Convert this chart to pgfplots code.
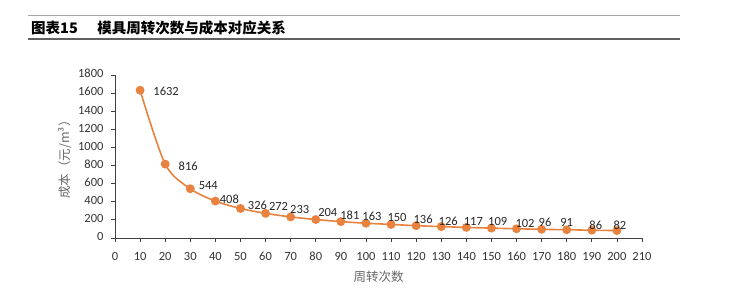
\documentclass[border=0pt]{standalone}
\usepackage{pgfplots}
\pgfplotsset{compat=1.18}
\usepackage{pgfplotstable}
\usepackage{fontspec}
\setmainfont{Carlito}
\newfontfamily\cjk{Noto Sans CJK SC}
\definecolor{org}{HTML}{E8823E}
\definecolor{axgray}{HTML}{404040}
\pgfplotstableread{
x y dx dy
10 1632 26 -1
20 816 23 -2
30 544 18 3
40 408 14 2
50 326 17 3.5
60 272 13 7
70 233 9 7
80 204 12 7.5
90 181 9 6
100 163 6 7
110 150 6 6.5
120 136 7 6.4
130 126 7 5.6
140 117 7 6.4
150 109 6.3 6.4
160 102 8.5 5.5
170 96 3.4 6.6
180 91 0 7
190 86 4 5
200 82 3 5.6
}\datatable
\begin{document}
\begin{tikzpicture}[x=1pt,y=1pt]
\path[use as bounding box] (0,0) rectangle (732,298);
\draw[gray!70, line width=1pt] (28,282) -- (680,282);
\draw[gray!75!black, line width=1.6pt] (28,259) -- (680,259);
\node[anchor=west, font=\cjk\bfseries\fontsize{14.5}{16}\selectfont, inner sep=0] at (31,270.5) {图表15\hspace{1.35em}模具周转次数与成本对应关系};
\begin{axis}[
  scale only axis, width=527pt, height=163pt,
  at={(115pt,60pt)}, anchor=south west,
  xmin=0, xmax=210, ymin=0, ymax=1800,
  xtick distance=10, ytick distance=200,
  axis x line=bottom, axis y line=left,
  axis line style={axgray, line width=0.8pt, -},
  tick style={axgray, line width=0.8pt},
  tick align=outside, major tick length=4pt,
  tick label style={font=\fontsize{12.5}{14}\selectfont, text=black!80},
  /pgf/number format/assume math mode=true,
  /pgf/number format/set thousands separator={},
  typeset ticklabels with strut,
  xticklabel style={yshift=-5pt},
  yticklabel style={xshift=-4pt},
  xlabel={\cjk 周转次数},
  ylabel={\cjk 成本（元/m³）},
  label style={font=\fontsize{12.5}{14}\selectfont, text=black!60},
  xlabel style={at={(axis description cs:0.5,0)}, anchor=center, yshift=-38.5pt},
  ylabel style={at={(axis description cs:0,0.5)}, anchor=center, rotate=0, yshift=50pt},
  clip=false,
]
\addplot[org, line width=1.6pt, smooth, tension=0.5, mark=*, mark size=3.6pt,
  mark options={fill=org, draw=org},
  nodes near coords,
  point meta=explicit symbolic,
  visualization depends on={\thisrow{dx} \as \ddx},
  visualization depends on={\thisrow{dy} \as \ddy},
  every node near coord/.append style={anchor=center, xshift=\ddx pt, yshift=\ddy pt, font=\fontsize{12.5}{14}\selectfont, text=black!85, inner sep=0}
] table[x=x, y=y, meta=y] {\datatable};
\end{axis}
\end{tikzpicture}
\end{document}
